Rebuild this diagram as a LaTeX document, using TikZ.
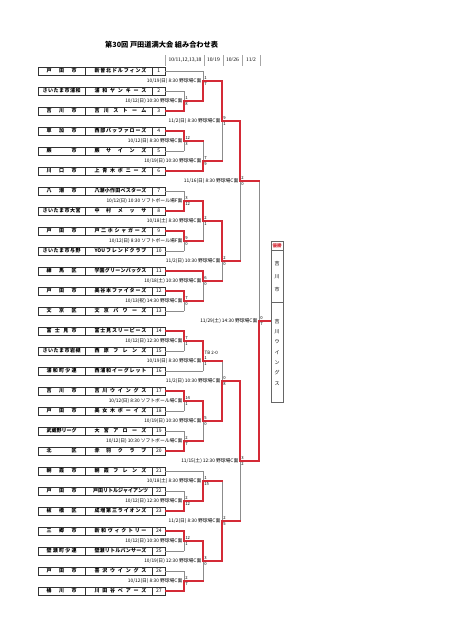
\documentclass[tikz,border=0pt]{standalone}
\usepackage{fontspec}
\setmainfont{Noto Sans CJK JP}
\newfontfamily\serifdates{Liberation Serif}
\definecolor{wred}{HTML}{D42A36}
\definecolor{lgray}{HTML}{8C8C8C}
\ExplSyntaxOn
\NewDocumentCommand\spreadtext{mm}
 {\makebox[#1]{\hskip 0pt plus -1fill\relax \tl_map_inline:nn {#2} {\hskip 0pt plus 1fill\relax ##1}}}
\ExplSyntaxOff
\tikzset{
 cell/.style={draw=black!80, line width=0.5pt, minimum height=8pt, inner sep=0pt, anchor=center, font=\bfseries\fontsize{5}{5}\selectfont},
 gline/.style={draw=lgray, line width=0.6pt},
 rline/.style={draw=wred, line width=1.2pt, line cap=rect},
 lbl/.style={font=\fontsize{4.8}{5}\selectfont, inner sep=0pt, anchor=east},
 sc/.style={font=\fontsize{4.2}{4}\selectfont, inner sep=0pt, anchor=west},
 hdr/.style={font=\serifdates\fontsize{5.5}{6}\selectfont, inner sep=0pt},
 sep/.style={draw=black!35, line width=0.4pt},
 wbox/.style={draw=black!60, line width=0.5pt, minimum width=12pt, inner sep=0pt},
}
\newcommand\team[5]{%
 \node[cell, minimum width=46.7pt] (p#1) at (61.65,#2) {\spreadtext{#3pt}{#4}};
 \node[cell, minimum width=67.7pt] (n#1) at (118.85,#2) {\hspace*{3.3pt}\spreadtext{52pt}{#5}};
 \node[cell, minimum width=12.3pt, font=\fontsize{5}{5}\selectfont] (k#1) at (158.85,#2) {#1};
}
\newcommand\match[9]{%
 \coordinate (#1) at (#2,#4);
 \coordinate (#1T) at (#2,#3);
 \coordinate (#1B) at (#2,#5);
 \if#6t
   \draw[gline] (#1) -- (#1B); \draw[rline] (#1T) -- (#1);
 \else
   \draw[gline] (#1T) -- (#1); \draw[rline] (#1) -- (#1B);
 \fi
 \node[lbl] (#1L) at ([xshift=-1.5pt]#1) {#7};
 \node[sc] (#1s) at ([xshift=1.2pt,yshift=3pt]#1) {#8};
 \node[sc] (#1t) at ([xshift=1.2pt,yshift=-3pt]#1) {#9};
}
\begin{document}
\begin{tikzpicture}[x=1pt,y=-1pt]
\useasboundingbox (0,0) rectangle (452,640);
\fill[white] (0,0) rectangle (452,640);

% title and header
\node[anchor=west, inner sep=0pt, font=\bfseries\fontsize{7.2}{8}\selectfont] (title) at (105,45) {第30回 戸田道満大会 組み合わせ表};
\node[hdr] (h1) at (185,60) {10/11,12,13,18};
\node[hdr] (h2) at (213.5,60) {10/19};
\node[hdr] (h3) at (232.5,60) {10/26};
\node[hdr] (h4) at (251,60) {11/2};
\foreach \xx in {165,204,223,242,260} \draw[sep] (\xx,55) -- (\xx,66);

% teams
\team{1}{71}{30}{戸田市}{新曽北ドルフィンズ}
\team{2}{91}{38}{さいたま市浦和}{浦和ヤンキース}
\team{3}{111}{30}{吉川市}{吉川ストーム}
\team{4}{131}{30}{草加市}{西部バッファローズ}
\team{5}{151}{30}{蕨市}{蕨サインズ}
\team{6}{171}{30}{川口市}{上青木ポニーズ}
\team{7}{191}{30}{八潮市}{八潮小作田ベスターズ}
\team{8}{211}{38}{さいたま市大宮}{中村メッサ}
\team{9}{231}{30}{戸田市}{戸二ホシャガーズ}
\team{10}{251}{38}{さいたま市与野}{{YOU}フレンドクラブ}
\team{11}{271}{30}{練馬区}{学園グリーンバックス}
\team{12}{291}{30}{戸田市}{美谷本ファイターズ}
\team{13}{311}{30}{文京区}{文京パワーズ}
\team{14}{331}{30}{富士見市}{富士見スリーピース}
\team{15}{351}{38}{さいたま市岩槻}{西原フレンズ}
\team{16}{371}{30}{浦和町少連}{西浦和イーグレット}
\team{17}{391}{30}{吉川市}{吉川ウイングス}
\team{18}{411}{30}{戸田市}{美女木ボーイズ}
\team{19}{431}{30}{武蔵野リーグ}{大宮アローズ}
\team{20}{451}{30}{北区}{赤羽クラブ}
\team{21}{471}{30}{朝霞市}{朝霞フレンズ}
\team{22}{491}{30}{戸田市}{戸田リトルジャイアンツ}
\team{23}{511}{30}{板橋区}{成増第三ライオンズ}
\team{24}{531}{30}{三郷市}{新和ヴィクトリー}
\team{25}{551}{30}{壁瀬町少連}{壁瀬リトルバンサーズ}
\team{26}{571}{30}{戸田市}{喜沢ウイングス}
\team{27}{591}{30}{桶川市}{川田谷ベアーズ}

% first round
\match{m23}{184}{91}{101}{111}{b}{10/12(日) 10:30 野球場C面}{1}{8}
\match{m45}{184}{131}{141}{151}{t}{10/12(日) 8:30 野球場C面}{12}{3}
\match{m78}{184}{191}{201}{211}{b}{10/12(日) 10:30 ソフトボール場F面}{3}{12}
\match{m910}{184}{231}{241}{251}{t}{10/12(日) 8:30 ソフトボール場F面}{9}{0}
\match{m1213}{184}{291}{301}{311}{t}{10/13(祝) 14:30 野球場C面}{7}{0}
\match{m1415}{184}{331}{341}{351}{t}{10/12(日) 12:30 野球場C面}{7}{1}
\match{m1718}{184}{391}{401}{411}{t}{10/12(日) 8:30 ソフトボール場C面}{14}{1}
\match{m1920}{184}{431}{441}{451}{b}{10/12(日) 10:30 ソフトボール場C面}{2}{7}
\match{m2223}{184}{491}{501}{511}{b}{10/12(日) 12:30 野球場C面}{2}{12}
\match{m2425}{184}{531}{541}{551}{t}{10/12(日) 10:30 野球場C面}{12}{1}
\match{m2627}{184}{571}{581}{591}{b}{10/12(日) 8:30 野球場C面}{2}{7}
% second round
\match{q1}{203}{71}{81}{101}{b}{10/19(日) 8:30 野球場C面}{1}{7}
\match{q2}{203}{141}{161}{171}{b}{10/19(日) 10:30 野球場C面}{7}{9}
\match{q3}{203}{201}{221}{241}{t}{10/18(土) 8:30 野球場C面}{2}{1}
\match{q4}{203}{271}{281}{301}{t}{10/18(土) 10:30 野球場C面}{6}{0}
\match{q5}{203}{341}{361}{371}{t}{10/19(日) 8:30 野球場C面}{1}{1}
\match{q6}{203}{401}{421}{441}{t}{10/19(日) 10:30 野球場C面}{5}{0}
\match{q7}{203}{471}{481}{501}{b}{10/18(土) 8:30 野球場C面}{1}{15}
\match{q8}{203}{541}{561}{581}{t}{10/19(日) 12:30 野球場C面}{3}{0}
\node[sc, font=\fontsize{4.5}{5}\selectfont] (tb) at ([xshift=1.5pt,yshift=8pt]q5) {TB 2-0};
% third round
\match{s1}{222}{81}{121}{161}{t}{11/2(日) 8:30 野球場C面}{9}{1}
\match{s2}{222}{221}{261}{281}{t}{11/2(日) 10:30 野球場C面}{2}{0}
\match{s3}{222}{361}{381}{421}{b}{11/2(日) 10:30 野球場C面}{0}{8}
\match{s4}{222}{481}{521}{561}{b}{11/2(日) 8:30 野球場C面}{2}{5}
% fourth round
\match{f1}{240}{121}{181}{261}{t}{11/16(日) 8:30 野球場C面}{2}{0}
\match{f2}{240}{381}{461}{521}{t}{11/15(土) 12:30 野球場C面}{3}{2}
% final
\match{fin}{259}{181}{321}{461}{b}{11/29(土) 14:30 野球場C面}{0}{7}

% team lines (gray = lost, red = won)
\foreach \k/\m in {2/m23,5/m45,7/m78,10/m910,13/m1213,15/m1415,18/m1718,19/m1920,22/m2223,25/m2425,26/m2627,1/q1,16/q5,21/q7}
  \draw[gline] (k\k.east) -- (k\k.east -| \m);
\foreach \k/\m in {3/m23,4/m45,8/m78,9/m910,12/m1213,14/m1415,17/m1718,20/m1920,23/m2223,24/m2425,27/m2627,6/q2,11/q4}
  \draw[rline] (k\k.east) -- (k\k.east -| \m);
% winners' lines
\foreach \a/\b in {m23/q1,m45/q2,m78/q3,m910/q3,m1213/q4,m1415/q5,m1718/q6,m1920/q6,m2223/q7,m2425/q8,m2627/q8,q1/s1,q2/s1,q3/s2,q4/s2,q5/s3,q6/s3,q7/s4,q8/s4,s1/f1,s2/f1,s3/f2,s4/f2,f1/fin,f2/fin}
  \draw[rline] (\a) -- (\a -| \b);

% champion box
\node[wbox, minimum height=9pt] (wh) at (277,246.2) {\textcolor{wred}{\bfseries\fontsize{4.5}{5}\selectfont 優勝}};
\node[wbox, minimum height=51.3pt, align=center, font=\fontsize{5}{13}\selectfont] (wp) at (277,276.35) {吉\\川\\市};
\node[wbox, minimum height=100.4pt, align=center, font=\fontsize{5}{10.3}\selectfont] (wt) at (277,352.2) {吉\\川\\ウ\\イ\\ン\\グ\\ス};
\draw[rline] (fin) -- (fin -| wt.west);
\end{tikzpicture}
\end{document}
